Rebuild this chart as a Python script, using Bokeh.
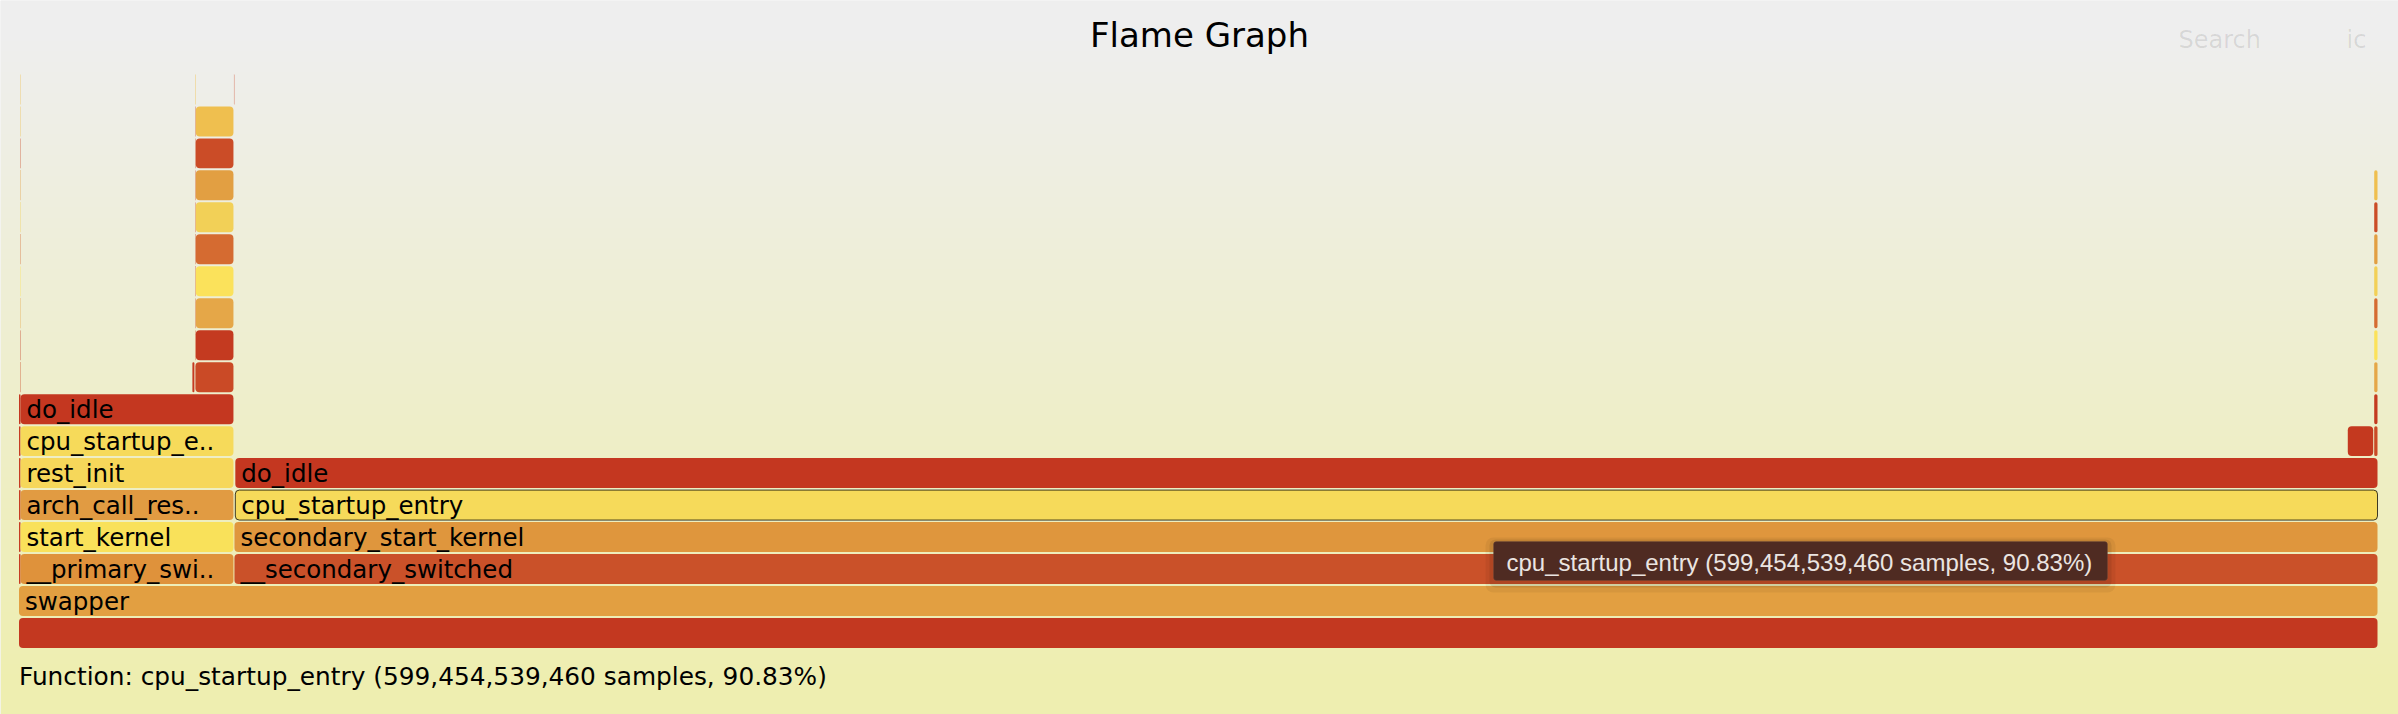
import numpy as np
from bokeh.plotting import figure
from bokeh.models import ColumnDataSource, Range1d, Label, BoxAnnotation
from bokeh.core.properties import value
from bokeh.embed import file_html
from bokeh.resources import INLINE

# ---------------------------------------------------------------- data
# Flame graph frames: name ("" = unlabeled / too narrow), parent index, samples.
frame_names = [
    "", "swapper",
    "", "", "", "", "", "",                      # thin stack at far left, depth 2-7
    "", "", "", "", "", "", "", "", "", "",      # its sub-pixel continuation, depth 8-17
    "__primary_switched", "start_kernel", "arch_call_rest_init", "rest_init",
    "cpu_startup_entry", "do_idle",
    "", "",                                      # children of do_idle (left)
    "", "", "", "", "", "", "", "", "",          # sliver chain, depth 9-17
    "", "", "", "", "", "", "", "",              # idle column, depth 9-16
    "",                                          # sliver, depth 17
    "__secondary_switched", "secondary_start_kernel", "cpu_startup_entry", "do_idle",
    "",                                          # block under right do_idle
    "", "", "", "", "", "", "", "", "",          # thin idle stack at right, depth 6-14
]
frame_parents = [
    -1, 0,
    1, 2, 3, 4, 5, 6,
    7, 8, 9, 10, 11, 12, 13, 14, 15, 16,
    1, 18, 19, 20, 21, 22,
    23, 23,
    25, 26, 27, 28, 29, 30, 31, 32, 33,
    25, 35, 36, 37, 38, 39, 40, 41,
    42,
    1, 44, 45, 46,
    47,
    47, 49, 50, 51, 52, 53, 54, 55, 56,
]
frame_samples = [
    659_960_000_000, 659_960_000_000,
    420_000_000, 420_000_000, 420_000_000, 420_000_000, 420_000_000, 420_000_000,
    100_000_000, 100_000_000, 100_000_000, 100_000_000, 100_000_000,
    100_000_000, 100_000_000, 100_000_000, 100_000_000, 100_000_000,
    59_840_000_000, 59_840_000_000, 59_840_000_000, 59_840_000_000,
    59_840_000_000, 59_840_000_000,
    840_000_000, 10_920_000_000,
    110_000_000, 110_000_000, 110_000_000, 110_000_000, 110_000_000,
    110_000_000, 110_000_000, 110_000_000, 110_000_000,
    10_810_000_000, 10_810_000_000, 10_810_000_000, 10_810_000_000,
    10_810_000_000, 10_810_000_000, 10_810_000_000, 10_810_000_000,
    140_000_000,
    599_700_000_000, 599_700_000_000, 599_454_539_460, 599_454_539_460,
    7_390_000_000,
    1_200_000_000, 1_200_000_000, 1_200_000_000, 1_200_000_000, 1_200_000_000,
    1_200_000_000, 1_200_000_000, 1_200_000_000, 1_200_000_000,
]
hovered_frame = 46
title_text = "Flame Graph"
search_text = "Search"
ignorecase_text = "ic"

# ---------------------------------------------------------------- styles
idle_chain = ["#ca4a26", "#c43a20", "#e5a748", "#fbe25b", "#d56b31",
              "#f2d057", "#e29f42", "#cb4c27", "#efbf4f"]
frame_colors = (
    ["#c33820", "#e29f41"]
    + ["#c63c22"] * 5 + ["#c43720"]
    + idle_chain + ["#efbf4f"]
    + ["#df923b", "#f9e15a", "#e19b42", "#f6d75a", "#f6da5a", "#c43720"]
    + ["#c53a21", "#ca4a26"]
    + ["#d0583a"] * 8 + ["#efbf4f"]
    + idle_chain[1:]
    + ["#d8826a"]
    + ["#ca5129", "#df963d", "#f6da5a", "#c43720"]
    + ["#c4391f"]
    + idle_chain
)
LABEL_PX = 24.5
DETAILS_PX = 24.8

# ---------------------------------------------------------------- layout
TOTAL = frame_samples[0]
S = 2398 / 1200.0          # page pixels per SVG unit of the original flame graph
W, H = 2398, 714
ROW_PX = 16 * S
X0, X1 = 18.5, 2378.0      # page pixels spanned by the root frame


def xs(px):
    """page pixel -> samples"""
    return (px - X0) / (X1 - X0) * TOTAL


def yd(ysvg):
    return (324 - ysvg) / 16.0


def lift(font_px):
    # raise text so that its baseline sits where the SVG baseline was
    return 0.24 * font_px / ROW_PX


n = len(frame_names)
children = {i: [] for i in range(n)}
for i, par in enumerate(frame_parents):
    if par >= 0:
        children[par].append(i)
start = [0.0] * n
depth = [0] * n


def place(i, s0, d):
    start[i] = s0
    depth[i] = d
    self_s = frame_samples[i] - sum(frame_samples[c] for c in children[i])
    pos = s0 + self_s
    for c in children[i]:
        place(c, pos, d + 1)
        pos += frame_samples[c]


place(0, 0.0, 0)

px_samples = xs(1) - xs(0)   # one page pixel in samples
left = np.array(start, dtype=float)
w = np.array(frame_samples, dtype=float)
gap = np.where(w > 3 * px_samples, px_samples, 0.0)
right = left + w - gap
bottom = np.array(depth, dtype=float)
top = bottom + 15.0 / 16.0

labels = []
for i in range(n):
    name = frame_names[i]
    wsvg = frame_samples[i] / TOTAL * 1180.0
    chars = int(wsvg / (12 * 0.59))
    txt = ""
    if chars >= 3 and name:
        txt = name[:chars]
        if chars < len(name):
            txt = txt[:-2] + ".."
    labels.append(txt)

src = ColumnDataSource(dict(
    left=left, right=right, bottom=bottom, top=top, color=frame_colors,
    lx=left + 6 * px_samples, ly=bottom + 4.5 / 16.0 + lift(24), label=labels,
))

p = figure(width=W, height=H, output_backend="svg", toolbar_location=None,
           x_range=Range1d(xs(0), xs(W)),
           y_range=Range1d(yd(H / S), yd(0)),
           min_border=0, outline_line_color=None,
           background_fill_color="#eeeeee", border_fill_color="#eeeeee")
p.xaxis.visible = False
p.yaxis.visible = False
p.grid.visible = False

# background gradient (#eeeeee -> #eeeeb0, 5% .. 95% of height)
rows = np.arange(H)
py = rows + 0.5
t = np.clip((py / (358 * S) - 0.05) / 0.9, 0, 1)
img = np.zeros((H, 2), dtype=np.uint32)
view = img.view(dtype=np.uint8).reshape((H, 2, 4))
bcol = (238 - t * (238 - 176)).round().astype(np.uint8)
for j in range(2):
    view[:, j, 0] = 238
    view[:, j, 1] = 238
    view[:, j, 2] = bcol
    view[:, j, 3] = 255
img = img[::-1].copy()
x0r, x1r = p.x_range.start, p.x_range.end
y0r, y1r = p.y_range.start, p.y_range.end
p.image_rgba(image=[img], x=x0r, y=y0r, dw=x1r - x0r, dh=y1r - y0r, level="image")

p.quad(left="left", right="right", bottom="bottom", top="top", source=src,
       fill_color="color", line_color=None, border_radius=4)
p.text(x="lx", y="ly", text="label", source=src, text_font=value("DejaVu Sans"),
       text_font_size=f"{LABEL_PX}px", text_color="black", text_baseline="alphabetic",
       text_align="left")

hv = hovered_frame
hsrc = ColumnDataSource(dict(left=[left[hv]], right=[right[hv]],
                             bottom=[bottom[hv]], top=[top[hv]]))
p.quad(left="left", right="right", bottom="bottom", top="top", source=hsrc,
       fill_color=None, line_color="black", line_width=1, line_alpha=0.75,
       border_radius=4)

pct = frame_samples[hv] / TOTAL * 100
info = f"{frame_names[hv]} ({frame_samples[hv]:,} samples, {pct:.2f}%)"

p.add_layout(Label(x=xs(1199), y=yd(24) + lift(34) + 5 / ROW_PX, text=title_text,
                   text_align="center",
                   text_baseline="alphabetic", text_font="DejaVu Sans",
                   text_font_size="34px", text_color="black"))
p.add_layout(Label(x=xs(2178), y=yd(24) + lift(24) + 3 / ROW_PX, text=search_text,
                   text_baseline="alphabetic",
                   text_font="DejaVu Sans", text_font_size="24px",
                   text_color="black", text_alpha=0.1))
p.add_layout(Label(x=xs(2346), y=yd(24) + lift(24) + 3 / ROW_PX, text=ignorecase_text,
                   text_baseline="alphabetic", text_font="DejaVu Sans",
                   text_font_size="24px", text_color="black", text_alpha=0.1))
p.add_layout(Label(x=xs(X0), y=yd(341) + lift(24), text="Function: " + info,
                   text_baseline="alphabetic", text_font="DejaVu Sans",
                   text_font_size=f"{DETAILS_PX}px", text_color="black"))


# native tooltip
def box(l, r, tp, b, **kw):
    return BoxAnnotation(left=xs(l), right=xs(r), top=yd(tp / S),
                         bottom=yd(b / S), **kw)


p.add_layout(box(1485, 2115, 537, 592, fill_color="black", fill_alpha=0.05,
                 line_color=None, border_radius=8))
p.add_layout(box(1489, 2111, 539, 587, fill_color="black", fill_alpha=0.08,
                 line_color=None, border_radius=6))
p.add_layout(box(1493, 2107, 541, 580, fill_color="#4f2b22", fill_alpha=1,
                 line_color="#6e4f43", line_width=1, border_radius=3))
p.add_layout(Label(x=xs(1506), y=yd(568 / S) + lift(24), text=info,
                   text_baseline="alphabetic", text_font="Liberation Sans",
                   text_font_size="24px", text_color="#ebe5e1"))

open("out.html", "w").write(file_html(p, INLINE))
